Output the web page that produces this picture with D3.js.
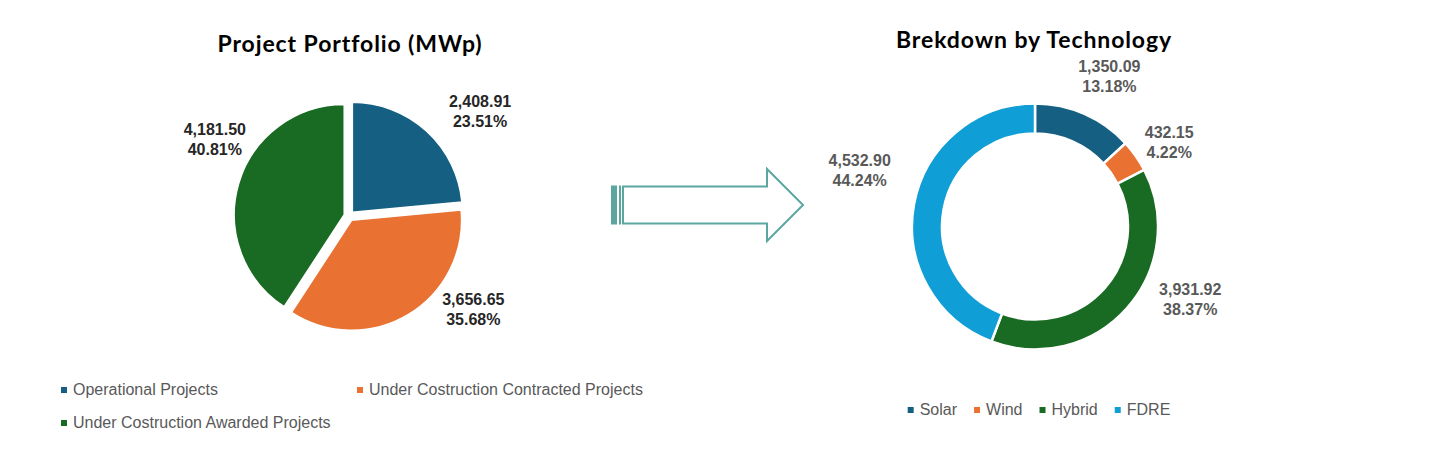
<!DOCTYPE html>
<html>
<head>
<meta charset="utf-8">
<script src="https://cdn.jsdelivr.net/npm/d3@7"></script>
<style>
  html, body { margin: 0; padding: 0; background: #fff; }
  svg { display: block; }
</style>
</head>
<body>
<svg id="chart" width="1440" height="458"></svg>
<script>
// data
var portfolioCategories = ["Operational Projects", "Under Costruction Contracted Projects", "Under Costruction Awarded Projects"];
var portfolioValues = [2408.91, 3656.65, 4181.50];
var portfolioColors = ["#156082", "#E97132", "#196B24"];

var techCategories = ["Solar", "Wind", "Hybrid", "FDRE"];
var techValues = [1350.09, 432.15, 3931.92, 4532.90];
var techColors = ["#156082", "#E97132", "#196B24", "#0F9ED5"];

var svg = d3.select("#chart");
var fmtNum = d3.format(",.2f");
var fmtPct = d3.format(".2%");

var labelFont = "'Liberation Sans', Arial, sans-serif";
var titleFont = "Lato, 'Open Sans', sans-serif";

// ---------- left: pie ----------
var pieC = {x: 349, y: 216, r: 110, explode: 5, labelR: 165};
// label nudges (Excel best-fit placement)
var pieNudge = [[20, 17], [39, -48], [24, -30]];

svg.append("text")
    .attr("x", 350)
    .attr("y", 52)
    .attr("text-anchor", "middle")
    .attr("font-family", titleFont)
    .attr("font-weight", "bold")
    .attr("font-size", "23px")
    .attr("letter-spacing", "0.9px")
    .attr("fill", "#000")
    .text("Project Portfolio (MWp)");

var pieData = portfolioValues.map(function(v, i) {
    return {name: portfolioCategories[i], value: v, color: portfolioColors[i], i: i};
});
var pieTotal = d3.sum(portfolioValues);
var pie = d3.pie().sort(null).value(function(d) { return d.value; });
var pieArcs = pie(pieData);
var arcP = d3.arc().innerRadius(0).outerRadius(pieC.r);
var arcPLabel = d3.arc().innerRadius(pieC.labelR).outerRadius(pieC.labelR);

var gPie = svg.append("g").attr("transform", "translate(" + pieC.x + "," + pieC.y + ")");

gPie.selectAll("path")
    .data(pieArcs)
    .enter().append("path")
    .attr("d", arcP)
    .attr("transform", function(d) {
        var a = (d.startAngle + d.endAngle) / 2;
        return "translate(" + (Math.sin(a) * pieC.explode) + "," + (-Math.cos(a) * pieC.explode) + ")";
    })
    .attr("fill", function(d) { return d.data.color; })
    .attr("stroke", "#fff")
    .attr("stroke-width", 1.5);

var pieLabels = gPie.selectAll("text.lbl")
    .data(pieArcs)
    .enter().append("text")
    .attr("class", "lbl")
    .attr("text-anchor", "middle")
    .attr("font-family", labelFont)
    .attr("font-weight", "bold")
    .attr("font-size", "16px")
    .attr("fill", "#262626")
    .attr("transform", function(d, i) {
        var c = arcPLabel.centroid(d);
        return "translate(" + (c[0] + pieNudge[i][0]) + "," + (c[1] + pieNudge[i][1]) + ")";
    });
pieLabels.append("tspan").attr("x", 0).attr("y", -4)
    .text(function(d) { return fmtNum(d.data.value); });
pieLabels.append("tspan").attr("x", 0).attr("y", 16)
    .text(function(d) { return fmtPct(d.data.value / pieTotal); });

// legend (two columns, wraps)
var legCols = [61, 357];
var legRows = [390, 423];
var gLegL = svg.append("g");
pieData.forEach(function(d, i) {
    var x = legCols[i % 2], y = legRows[Math.floor(i / 2)];
    gLegL.append("rect")
        .attr("x", x).attr("y", y - 3)
        .attr("width", 6).attr("height", 6)
        .attr("fill", d.color);
    gLegL.append("text")
        .attr("x", x + 12).attr("y", y + 5)
        .attr("font-family", labelFont)
        .attr("font-size", "16px")
        .attr("fill", "#595959")
        .text(d.name);
});

// ---------- arrow between charts ----------
var arrowColor = "#5BA7A0";
var ar = {x0: 611, x1: 803, yMid: 205, shaftH: 37, headH: 72, headX: 767};
var gArrow = svg.append("g");
gArrow.append("path")
    .attr("d", [
        "M", ar.x0 + 12, ar.yMid - ar.shaftH / 2,
        "L", ar.headX, ar.yMid - ar.shaftH / 2,
        "L", ar.headX, ar.yMid - ar.headH / 2,
        "L", ar.x1, ar.yMid,
        "L", ar.headX, ar.yMid + ar.headH / 2,
        "L", ar.headX, ar.yMid + ar.shaftH / 2,
        "L", ar.x0 + 12, ar.yMid + ar.shaftH / 2,
        "Z"].join(" "))
    .attr("fill", "#fff")
    .attr("stroke", arrowColor)
    .attr("stroke-width", 2);
gArrow.append("rect")
    .attr("x", ar.x0).attr("y", ar.yMid - ar.shaftH / 2 - 1)
    .attr("width", 6).attr("height", ar.shaftH + 2)
    .attr("fill", arrowColor);
gArrow.append("rect")
    .attr("x", ar.x0 + 8).attr("y", ar.yMid - ar.shaftH / 2 - 1)
    .attr("width", 2).attr("height", ar.shaftH + 2)
    .attr("fill", arrowColor);

// ---------- right: donut ----------
var donC = {x: 1035, y: 226.5, r: 123, inner: 93, labelR: 165};
var donNudge = [[8, 1], [-1, 10], [32, -37], [-13, -27]];

svg.append("text")
    .attr("x", 1034)
    .attr("y", 48)
    .attr("text-anchor", "middle")
    .attr("font-family", titleFont)
    .attr("font-weight", "bold")
    .attr("font-size", "23px")
    .attr("letter-spacing", "0.9px")
    .attr("fill", "#000")
    .text("Brekdown by Technology");

var donData = techValues.map(function(v, i) {
    return {name: techCategories[i], value: v, color: techColors[i]};
});
var donTotal = d3.sum(techValues);
var donArcs = pie(donData);
var arcD = d3.arc().innerRadius(donC.inner).outerRadius(donC.r);
var arcDLabel = d3.arc().innerRadius(donC.labelR).outerRadius(donC.labelR);

var gDon = svg.append("g").attr("transform", "translate(" + donC.x + "," + donC.y + ")");
gDon.selectAll("path")
    .data(donArcs)
    .enter().append("path")
    .attr("d", arcD)
    .attr("fill", function(d) { return d.data.color; })
    .attr("stroke", "#fff")
    .attr("stroke-width", 2.5);

var donLabels = gDon.selectAll("text.lbl")
    .data(donArcs)
    .enter().append("text")
    .attr("class", "lbl")
    .attr("text-anchor", "middle")
    .attr("font-family", labelFont)
    .attr("font-weight", "bold")
    .attr("font-size", "16px")
    .attr("fill", "#595959")
    .attr("transform", function(d, i) {
        var c = arcDLabel.centroid(d);
        return "translate(" + (c[0] + donNudge[i][0]) + "," + (c[1] + donNudge[i][1]) + ")";
    });
donLabels.append("tspan").attr("x", 0).attr("y", -4)
    .text(function(d) { return fmtNum(d.data.value); });
donLabels.append("tspan").attr("x", 0).attr("y", 16)
    .text(function(d) { return fmtPct(d.data.value / donTotal); });

// legend, one centred row
var gLegR = svg.append("g");
var legY = 410;
var items = gLegR.selectAll("g")
    .data(donData)
    .enter().append("g");
items.append("rect")
    .attr("x", 0).attr("y", legY - 3)
    .attr("width", 6).attr("height", 6)
    .attr("fill", function(d) { return d.color; });
items.append("text")
    .attr("x", 12).attr("y", legY + 5)
    .attr("font-family", labelFont)
    .attr("font-size", "16px")
    .attr("fill", "#595959")
    .text(function(d) { return d.name; });

var widths = [];
items.each(function() {
    widths.push(12 + d3.select(this).select("text").node().getComputedTextLength());
});
var gap = 17;
var totalW = d3.sum(widths) + gap * (widths.length - 1);
var lx = 1039 - totalW / 2;
items.attr("transform", function(d, i) {
    var t = "translate(" + lx + ",0)";
    lx += widths[i] + gap;
    return t;
});
</script>
</body>
</html>
